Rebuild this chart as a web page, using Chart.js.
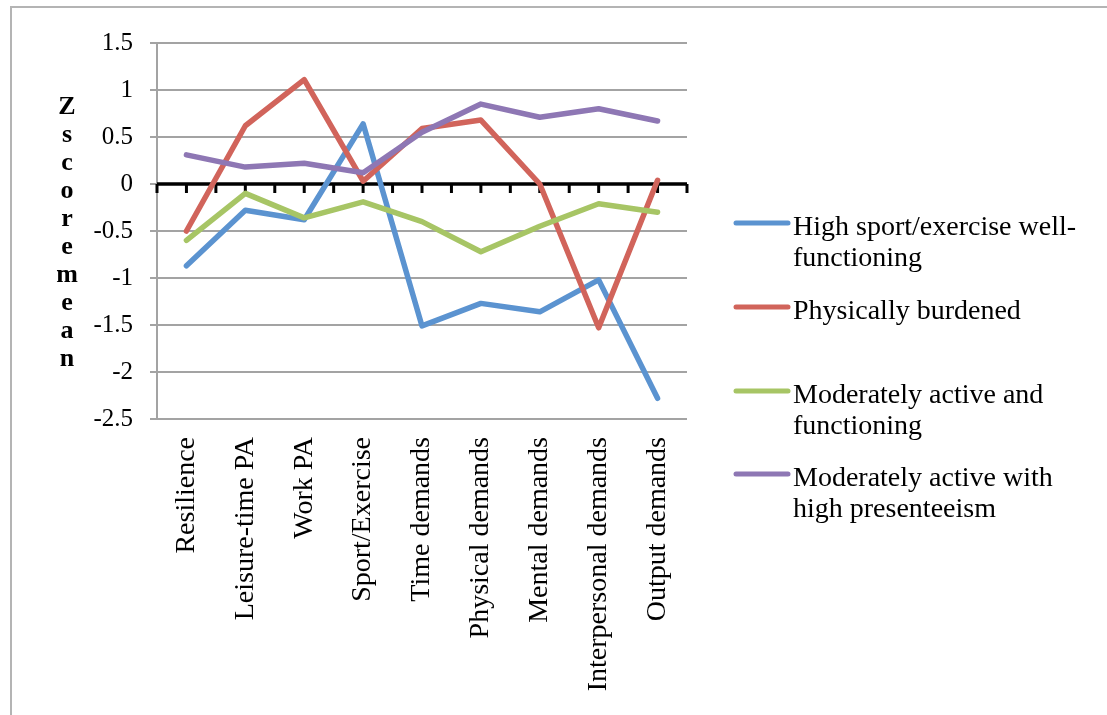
<!DOCTYPE html>
<html>
<head>
<meta charset="utf-8">
<title>Z score mean by profile</title>
<script src="https://cdn.jsdelivr.net/npm/chart.js@4.4.1/dist/chart.umd.min.js"></script>
<style>
  html, body { margin: 0; padding: 0; background: #ffffff; }
  #wrap { position: relative; width: 1107px; height: 715px; }
</style>
</head>
<body>
<div id="wrap"><canvas id="chart" width="1107" height="715"></canvas></div>
<script>
// Profile measures along the x axis
const categories = ['Resilience', 'Leisure-time PA', 'Work PA', 'Sport/Exercise', 'Time demands',
  'Physical demands', 'Mental demands', 'Interpersonal demands', 'Output demands'];

// Z score means for each profile
const highSportWell = [-0.87, -0.28, -0.38, 0.64, -1.51, -1.27, -1.36, -1.02, -2.28];
const physicallyBurdened = [-0.50, 0.62, 1.11, 0.03, 0.59, 0.68, 0.00, -1.53, 0.04];
const moderatelyFunctioning = [-0.60, -0.10, -0.36, -0.19, -0.40, -0.72, -0.45, -0.21, -0.30];
const moderatelyPresenteeism = [0.31, 0.18, 0.22, 0.12, 0.55, 0.85, 0.71, 0.80, 0.67];

// Legend text, one entry per profile, split into its printed lines
const legendLines = [
  ['High sport/exercise well-', 'functioning'],
  ['Physically burdened'],
  ['Moderately active and', 'functioning'],
  ['Moderately active with', 'high presenteeism']
];

// Value axis range and title
const yMin = -2.5, yMax = 1.5, yStep = 0.5;
const yTitle = 'Z score mean';

const colors = ['#5b93d0', '#d1645b', '#a7c565', '#8e77b4'];
const seriesValues = [highSportWell, physicallyBurdened, moderatelyFunctioning, moderatelyPresenteeism];

const SERIF = '"Liberation Serif", "DejaVu Serif", serif';
const GRID = '#a3a3a3';

const datasets = seriesValues.map((vals, i) => ({
  label: legendLines[i].join(''),
  data: vals,
  borderColor: colors[i],
  backgroundColor: colors[i],
  borderWidth: 5.5,
  pointRadius: 0,
  pointHoverRadius: 0,
  tension: 0,
  fill: false,
  borderCapStyle: 'round',
  borderJoinStyle: 'round',
  order: seriesValues.length - i   // later series painted on top
}));

// Outer frame, stacked y title, zero axis with tick marks, legend
const decorPlugin = {
  id: 'decor',
  beforeDraw(chart) {
    const ctx = chart.ctx;
    ctx.save();
    ctx.strokeStyle = '#b4b4b4';
    ctx.lineWidth = 2;
    ctx.beginPath();
    ctx.moveTo(11, 715);
    ctx.lineTo(11, 7);
    ctx.lineTo(1107, 7);
    ctx.stroke();

    // vertical stacked axis title
    ctx.fillStyle = '#000000';
    ctx.font = 'bold 26px ' + SERIF;
    ctx.textAlign = 'center';
    ctx.textBaseline = 'middle';
    const letters = yTitle.replace(/\s+/g, '').split('');
    letters.forEach((ch, k) => ctx.fillText(ch, 67, 107 + k * 28));
    ctx.restore();
  },
  beforeDatasetsDraw(chart) {
    const ctx = chart.ctx;
    const area = chart.chartArea;
    const y0 = chart.scales.y.getPixelForValue(0);
    ctx.save();
    ctx.strokeStyle = '#000000';
    ctx.lineWidth = 3.5;
    ctx.beginPath();
    ctx.moveTo(area.left, y0);
    ctx.lineTo(area.right, y0);
    ctx.stroke();
    ctx.lineWidth = 3;
    const n = categories.length * 2;
    for (let k = 0; k <= n; k++) {
      const x = area.left + k * (area.right - area.left) / n;
      ctx.beginPath();
      ctx.moveTo(x, y0);
      ctx.lineTo(x, y0 + 9);
      ctx.stroke();
    }
    ctx.restore();
  },
  afterDraw(chart) {
    const ctx = chart.ctx;
    const rowY = [223, 307, 391, 474];
    ctx.save();
    ctx.font = '28px ' + SERIF;
    ctx.textAlign = 'left';
    ctx.textBaseline = 'alphabetic';
    legendLines.forEach((lines, i) => {
      const y = rowY[i];
      ctx.strokeStyle = colors[i];
      ctx.lineWidth = 5;
      ctx.lineCap = 'round';
      ctx.beginPath();
      ctx.moveTo(736, y);
      ctx.lineTo(788, y);
      ctx.stroke();
      ctx.fillStyle = '#000000';
      lines.forEach((t, j) => ctx.fillText(t, 793, y + 12 + j * 31));
    });
    ctx.restore();
  }
};

new Chart(document.getElementById('chart'), {
  type: 'line',
  data: { labels: categories, datasets },
  options: {
    responsive: false,
    animation: false,
    events: [],
    layout: { padding: { left: 0, top: 43, right: 420, bottom: 0 } },
    plugins: {
      legend: { display: false },
      tooltip: { enabled: false },
      title: { display: false }
    },
    scales: {
      x: {
        type: 'category',
        offset: true,
        grid: { display: false },
        border: { display: false },
        ticks: {
          color: '#000000',
          font: { family: SERIF, size: 28 },
          minRotation: 90,
          maxRotation: 90,
          autoSkip: false,
          padding: 10
        },
        afterFit(scale) { scale.height = 296; }
      },
      y: {
        min: yMin,
        max: yMax,
        grid: { color: GRID, lineWidth: 2, tickLength: 7, drawTicks: true },
        border: { display: true, color: GRID, width: 2 },
        ticks: {
          stepSize: yStep,
          color: '#000000',
          font: { family: SERIF, size: 25 },
          padding: 17,
          callback: v => String(Math.round(v * 10) / 10)
        },
        afterFit(scale) { scale.width = 157; }
      }
    }
  },
  plugins: [decorPlugin]
});
</script>
</body>
</html>
